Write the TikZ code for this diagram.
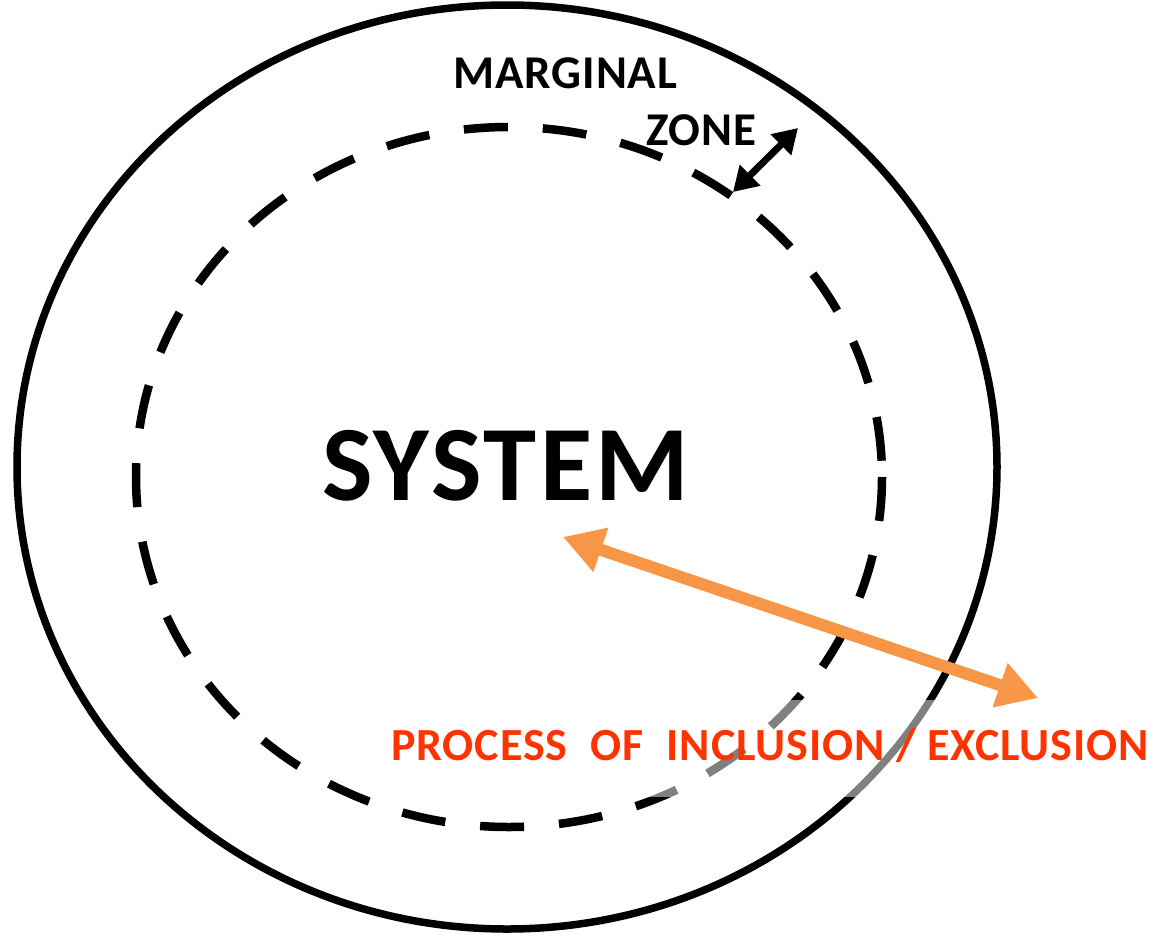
\documentclass[tikz,border=0pt]{standalone}
\usepackage{fontspec}
\setmainfont{Carlito}
\usetikzlibrary{arrows.meta}
\definecolor{arroworange}{HTML}{F79646}
\definecolor{procred}{HTML}{FF3300}
\tikzset{
  ring/.style={line width=7.5pt, black},
  dashring/.style={line width=8.5pt, black, dash pattern=on 44pt off 35pt},
  zonearrow/.style={line width=7pt, black, {Triangle[length=24pt,width=28pt]}-{Triangle[length=24pt,width=28pt]}},
  procarrow/.style={line width=12pt, arroworange, {Triangle[length=40pt,width=44pt]}-{Triangle[length=40pt,width=44pt]}},
  label/.style={inner sep=0pt, anchor=base west, font=\bfseries}
}
\begin{document}
\begin{tikzpicture}[x=1pt,y=-1pt]
\useasboundingbox (0,0) rectangle (1172,937);
% outer system boundary and marginal zone boundary
\draw[ring] (507,467) ellipse [x radius=490, y radius=462];
\draw[dashring] (509,477) ellipse [x radius=373, y radius=350];
% zone arrow
\coordinate (zinner) at (733,192);
\coordinate (zouter) at (798,128);
\draw[zonearrow] (zinner) -- (zouter);
% translucent text box
\fill[white, opacity=0.5] (390,700) rectangle (1160,797);
% process arrow
\coordinate (pin) at (563,537);
\coordinate (pout) at (1038,698);
\draw[procarrow] (pin) -- (pout);
% labels
\node[label, font=\fontsize{47}{50}\selectfont\bfseries\addfontfeature{LetterSpace=2}] (marg) at (453,88) {MARGINAL};
\node[label, font=\fontsize{47}{50}\selectfont\bfseries\addfontfeature{LetterSpace=2}] (zone) at (646,145) {ZONE};
\node[label, font=\fontsize{107}{110}\selectfont\bfseries\addfontfeature{LetterSpace=3}] (sys) at (322,500) {SYSTEM};
\node[label, text=procred, font=\fontsize{46}{50}\selectfont\bfseries\addfontfeature{LetterSpace=2}] (proc) at (391,760) {PROCESS\hspace{0.5em}OF\hspace{0.5em}INCLUSION / EXCLUSION};
\end{tikzpicture}
\end{document}
